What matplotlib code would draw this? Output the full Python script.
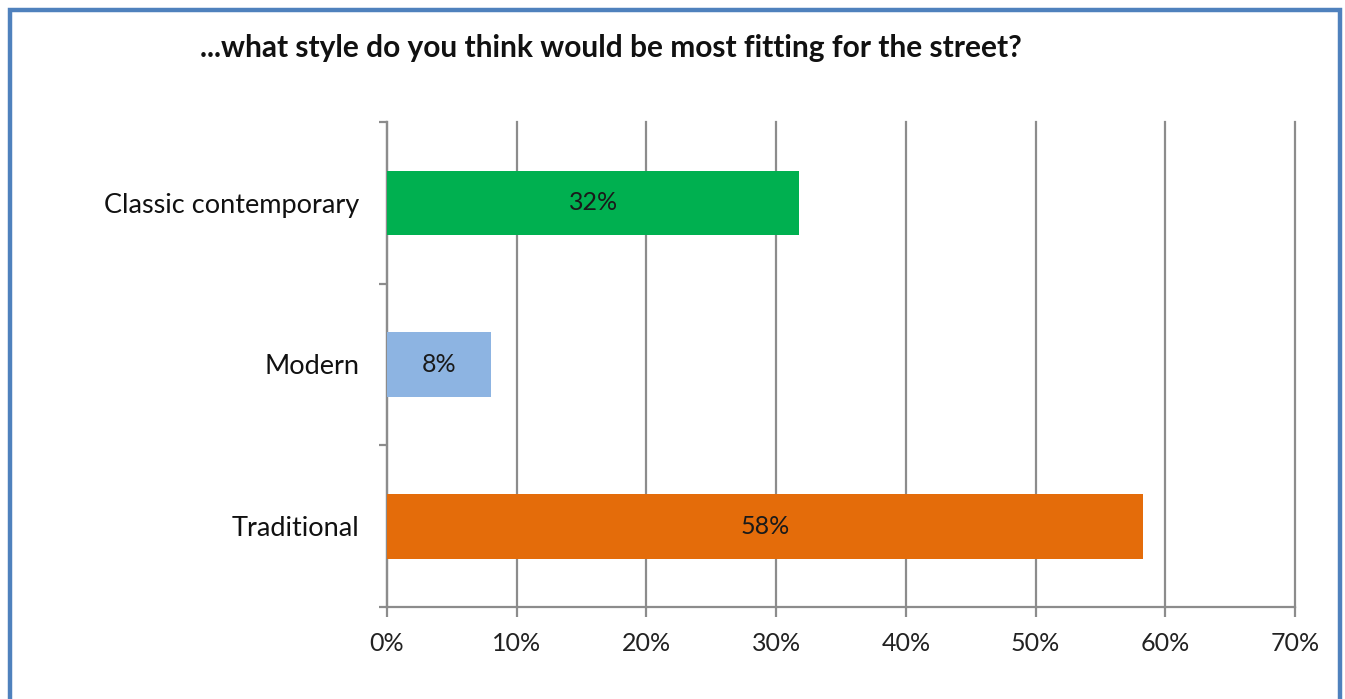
import matplotlib
matplotlib.use("Agg")
import matplotlib.pyplot as plt
from matplotlib.patches import Rectangle
from matplotlib.ticker import FixedLocator

categories = ["Classic contemporary", "Modern", "Traditional"]
values = [31.8, 8.0, 58.3]
labels = ["32%", "8%", "58%"]
colors = ["#00B050", "#8DB4E2", "#E46C0A"]
xticks = [0, 10, 20, 30, 40, 50, 60, 70]
xticklabels = [f"{t}%" for t in xticks]
title = "...what style do you think would be most fitting for the street?"

plt.rcParams['font.family'] = ['Lato', 'DejaVu Sans']

W, H = 1345, 699
fig = plt.figure(figsize=(W / 100, H / 100), dpi=100)
ax = fig.add_axes([387 / W, 1 - 607 / H, (1295 - 387) / W, (607 - 122) / H])

ypos = [2, 1, 0]
ax.barh(ypos, values, height=0.40, color=colors, zorder=3)
for y, v, lab in zip(ypos, values, labels):
    ax.text(v / 2, y, lab, ha="center", va="center", fontsize=18, color="#1a1a1a", zorder=4)

ax.set_xlim(0, 70)
ax.set_ylim(-0.5, 2.5)
ax.set_xticks(xticks)
ax.set_xticklabels(xticklabels, fontsize=18, color="#222222")
ax.set_yticks(ypos)
ax.set_yticklabels(categories, fontsize=19.5, color="#111111")
ax.yaxis.set_minor_locator(FixedLocator([-0.5, 0.5, 1.5, 2.5]))

grid_c = "#8C8C8C"
ax.grid(axis="x", color=grid_c, linewidth=1.6, zorder=0)
for line in ax.get_xgridlines():
    line.set_clip_on(False)
for s in ["top", "right"]:
    ax.spines[s].set_visible(False)
for s in ["left", "bottom"]:
    ax.spines[s].set_color(grid_c)
    ax.spines[s].set_linewidth(1.6)
ax.tick_params(axis="y", which="major", length=0, pad=20)
ax.tick_params(axis="y", which="minor", length=6, width=1.6, color=grid_c)
ax.tick_params(axis="x", which="major", length=7, width=1.6, color=grid_c, pad=11)

fig.text(200 / W, 1 - 48 / H, title, fontsize=21.5, fontweight="bold", ha="left", va="center", color="#111111")

fig.patches.append(Rectangle((10 / W, -0.05), 1330 / W, 1.05 - 10 / H,
                             transform=fig.transFigure, fill=False,
                             edgecolor="#4F81BD", linewidth=3.2))

fig.savefig("out.png", dpi=100)
